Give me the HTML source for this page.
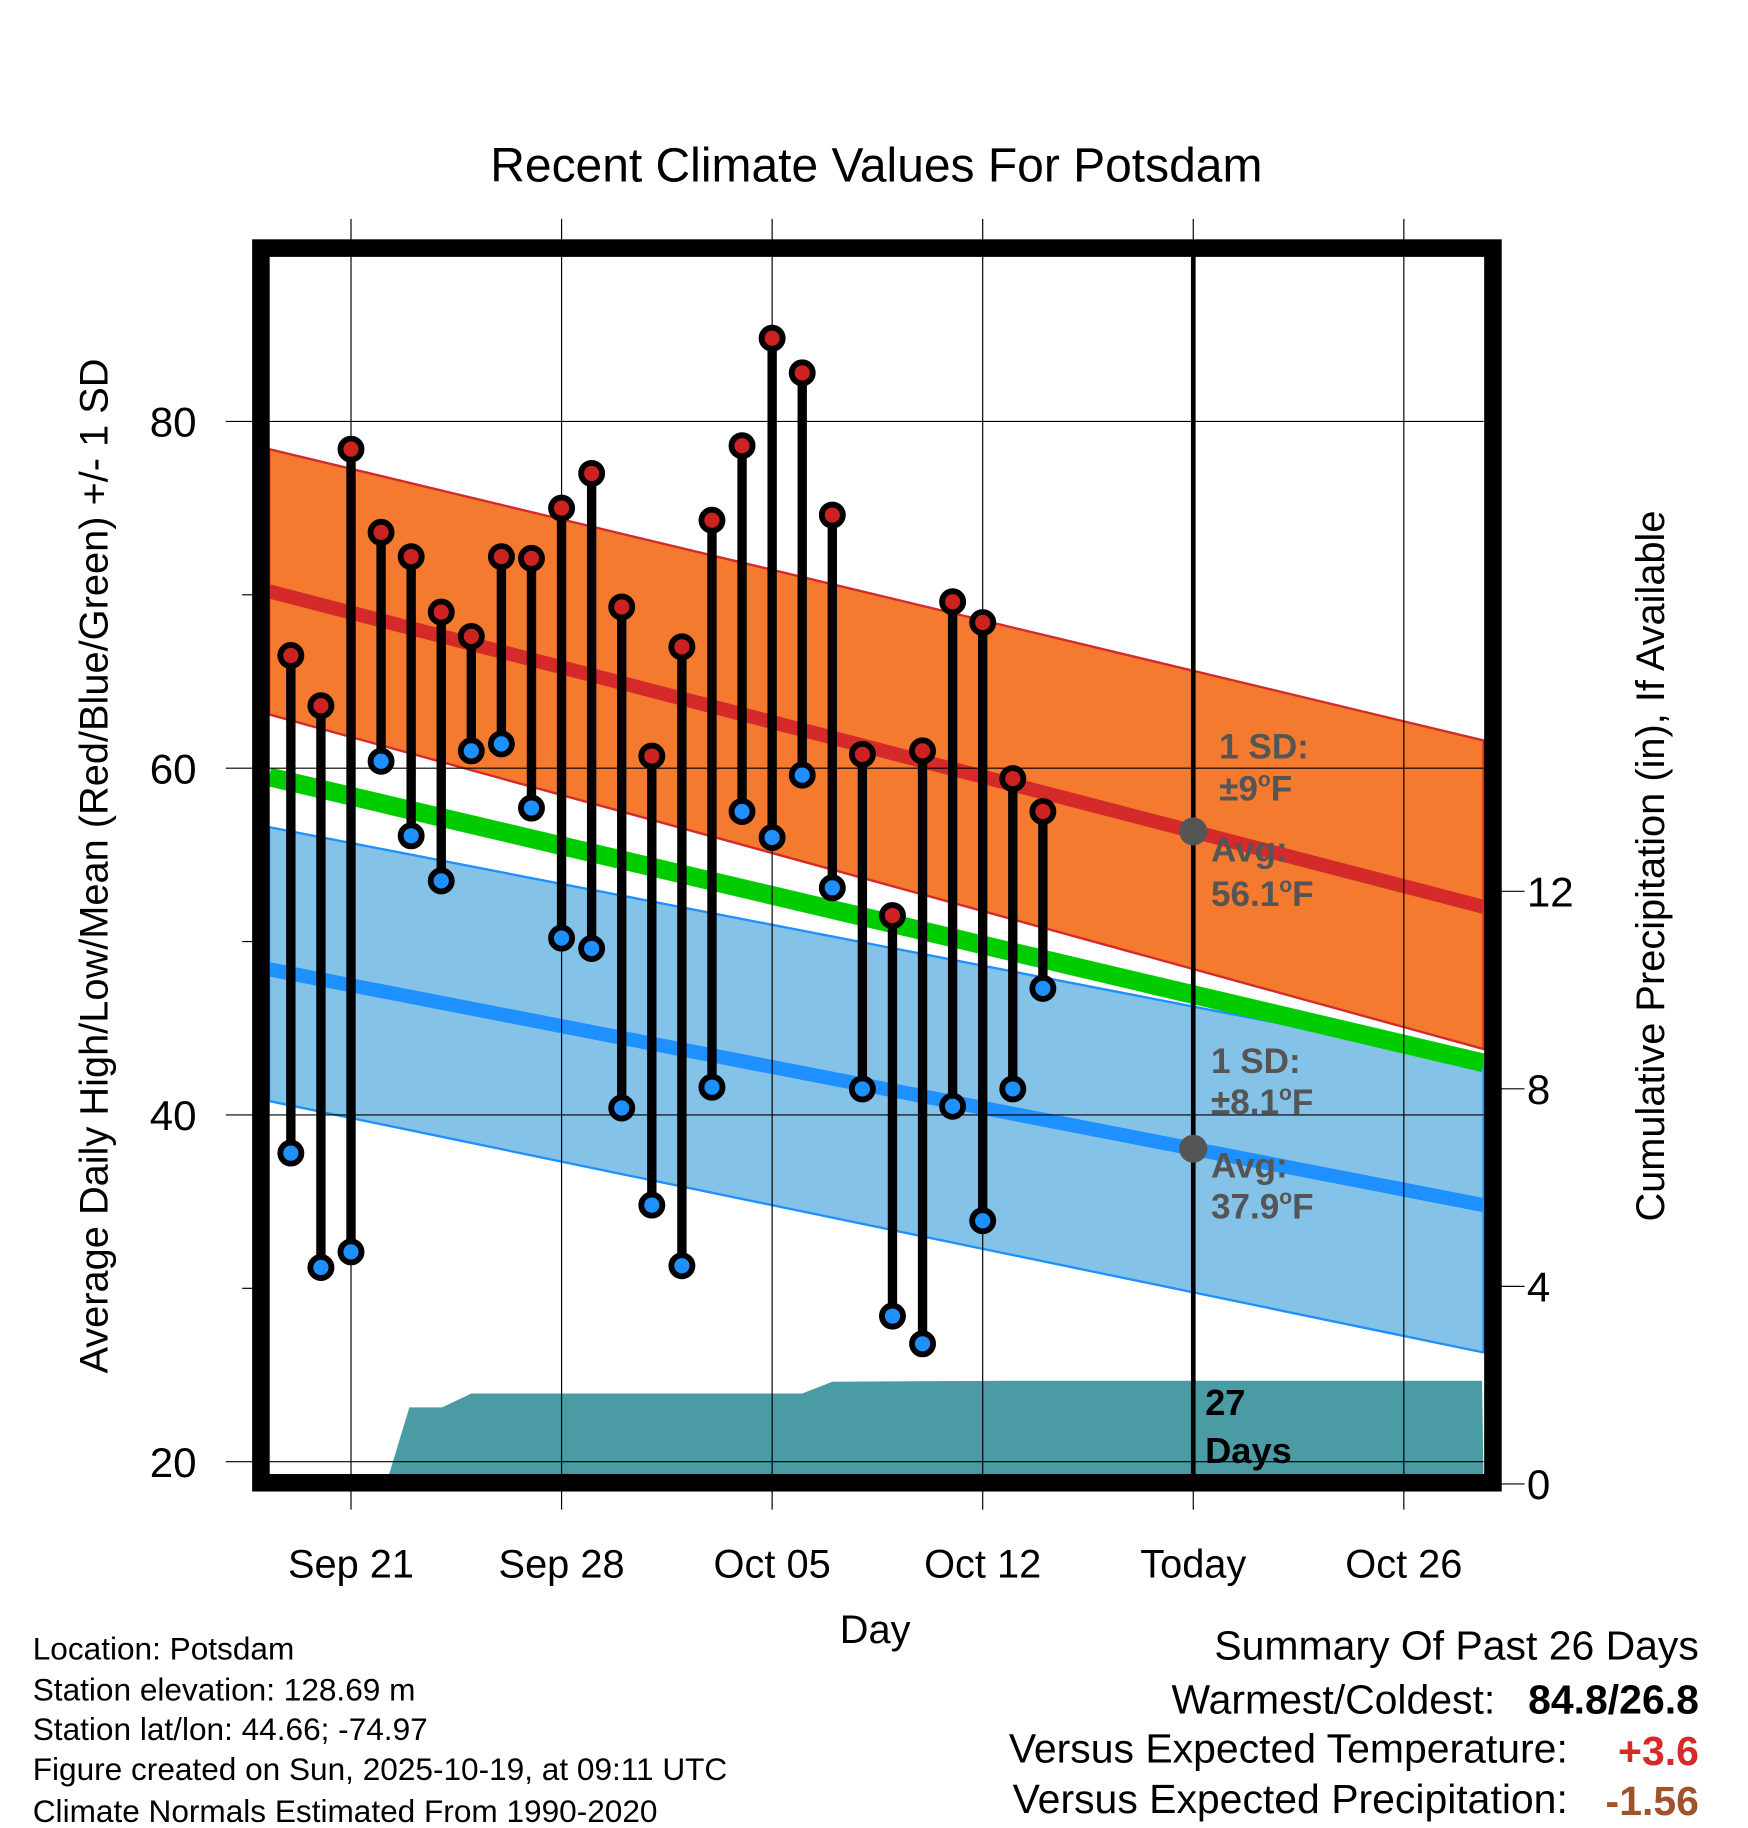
<!DOCTYPE html>
<html><head><meta charset="utf-8"><style>
html,body{margin:0;padding:0;background:#fff;}
svg{display:block;font-family:"Liberation Sans",Arial,sans-serif;}
</style></head><body>
<svg id="chart" width="1748" height="1828" viewBox="0 0 1494 1562" preserveAspectRatio="none" xmlns="http://www.w3.org/2000/svg">
<g id="gBack"></g>
<g id="gMarks"></g>
<g id="gFront"></g>
</svg>
<script>
// ---- data ----
const highs = [66.5,63.6,78.4,73.6,72.2,69.0,67.6,72.2,72.1,75.0,77.0,69.3,60.7,67.0,74.3,78.6,84.8,82.8,74.6,60.8,51.5,61.0,69.6,68.4,59.4,57.5];
const lows  = [37.8,31.2,32.1,60.4,56.1,53.5,61.0,61.4,57.7,50.2,49.6,40.4,34.8,31.3,41.6,57.5,56.0,59.6,53.1,41.5,28.4,26.8,40.5,33.9,41.5,47.3];
const firstDay = -2; // days relative to Sep 21
const normHighMean = [70.2, 52.0];   // at left / right edge of plot
const normHighUpper = [78.4, 61.6];
const normHighLower = [63.1, 43.8];
const normLowMean = [48.4, 34.8];
const normLowUpper = [56.6, 43.0];
const normLowLower = [40.8, 26.3];
const normAvg = [59.5, 43.0];
const precipDays = [1.17, 1.94, 3.03, 4.0, 15.0, 16.0, 22.6, 37.6];
const precipVals = [0, 1.55, 1.55, 1.83, 1.83, 2.07, 2.09, 2.09];
const yTicks = [20,40,60,80];
const yMinor = [30,50,70];
const pTicks = [0,4,8,12];
const xTickDays = [0,7,14,21,28,35];
const xTickLabels = ["Sep 21","Sep 28","Oct 05","Oct 12","Today","Oct 26"];
// ---- axes ----
const L=230,R=1268;
const X=d=>300+d*25.71;
const Y=v=>1249-(v-20)*14.815;
const P=p=>1268-p*42.2;
const NS="http://www.w3.org/2000/svg";
function mk(par,tag,at,txt){const e=document.createElementNS(NS,tag);for(const k in at)e.setAttribute(k,at[k]);if(txt!==undefined)e.textContent=txt;document.getElementById(par).appendChild(e);return e;}
function band(a,b){return `${L},${Y(a[0])} ${R},${Y(a[1])} ${R},${Y(b[1])} ${L},${Y(b[0])}`;}
let e;
e=mk('gBack','polygon',{points:band(normHighUpper,normHighLower),fill:'#f47a2f',stroke:'#d42a2a','stroke-width':2});

e=mk('gBack','polygon',{points:band(normLowUpper,normLowLower),fill:'#84c2e8',stroke:'#1e90ff','stroke-width':2});

e=mk('gBack','line',{x1:L,y1:Y(normAvg[0]),x2:R,y2:Y(normAvg[1]),stroke:'#00cc00','stroke-width':16});

e=mk('gBack','line',{x1:L,y1:Y(normHighMean[0]),x2:R,y2:Y(normHighMean[1]),stroke:'#d42a2a','stroke-width':12});

e=mk('gBack','line',{x1:L,y1:Y(normLowMean[0]),x2:R,y2:Y(normLowMean[1]),stroke:'#1e90ff','stroke-width':12});

// precip area
let pts=precipDays.map((d,i)=>`${Math.min(R,X(d))},${P(precipVals[i])}`);
pts.push(`${R},${P(0)}`);pts.push(`${X(precipDays[0])},${P(0)}`);
e=mk('gBack','polygon',{points:pts.join(' '),fill:'#4a9ba3'});

// grid
xTickDays.forEach((d,i)=>{
 e=mk('gBack','line',{x1:X(d),y1:187,x2:X(d),y2:1290,stroke:'#000','stroke-width':1});
 
 e=mk('gFront','text',{x:X(d),y:1348,'text-anchor':'middle','font-size':34},xTickLabels[i]);
 
});
yTicks.forEach(v=>{
 e=mk('gBack','line',{x1:193,y1:Y(v),x2:R,y2:Y(v),stroke:'#000','stroke-width':1});
 
 e=mk('gFront','text',{x:168,y:Y(v)+13,'text-anchor':'end','font-size':36},String(v));
 
});
yMinor.forEach(v=>{
 e=mk('gBack','line',{x1:207,y1:Y(v),x2:218,y2:Y(v),stroke:'#000','stroke-width':1});
 
});
pTicks.forEach(v=>{
 e=mk('gFront','line',{x1:1283,y1:P(v),x2:1303,y2:P(v),stroke:'#000','stroke-width':1});
 
 e=mk('gFront','text',{x:1305,y:P(v)+13,'font-size':36},String(v));
 
});
e=mk('gBack','line',{x1:X(28),y1:215,x2:X(28),y2:1262,stroke:'#000','stroke-width':4});

highs.forEach((h,i)=>{
 const x=X(firstDay+i);
 e=mk('gMarks','line',{x1:x,y1:Y(h),x2:x,y2:Y(lows[i]),stroke:'#000','stroke-width':8});
 
});
highs.forEach((h,i)=>{
 const x=X(firstDay+i);
 e=mk('gMarks','circle',{cx:x,cy:Y(h),r:9,fill:'#cc2222',stroke:'#000','stroke-width':5});
 
 e=mk('gMarks','circle',{cx:x,cy:Y(lows[i]),r:9,fill:'#1e90ff',stroke:'#000','stroke-width':5});
 
});
const tH=normHighMean[0]+(normHighMean[1]-normHighMean[0])*(X(28)-L)/(R-L);
const tL=normLowMean[0]+(normLowMean[1]-normLowMean[0])*(X(28)-L)/(R-L);
e=mk('gMarks','circle',{cx:X(28),cy:Y(tH),r:12,fill:'#555'});

e=mk('gMarks','circle',{cx:X(28),cy:Y(tL),r:12,fill:'#555'});

</script>
<script>
(function(){
const NS="http://www.w3.org/2000/svg";
const g=document.getElementById('gFront');
function t(x,y,s,txt,name,extra){const e=document.createElementNS(NS,'text');e.setAttribute('x',x);e.setAttribute('y',y);e.setAttribute('font-size',s);for(const k in (extra||{}))e.setAttribute(k,extra[k]);e.innerHTML=txt;


g.appendChild(e);return e;}
const f=document.createElementNS(NS,'rect');
f.setAttribute('x',223);f.setAttribute('y',212);f.setAttribute('width',1053);f.setAttribute('height',1055);f.setAttribute('fill','none');f.setAttribute('stroke','#000');f.setAttribute('stroke-width',15);


g.appendChild(f);
const gb={fill:'#555','font-weight':'bold'};
t(1042,648,30,'1 SD:','high-sd-label',gb);
t(1042,684,30,'±9<tspan font-size="18" dy="-12">o</tspan><tspan dy="12">F</tspan>','high-sd-value',gb);
t(1035,736,30,'Avg:','high-avg-label',gb);
t(1035,774,30,'56.1<tspan font-size="18" dy="-12">o</tspan><tspan dy="12">F</tspan>','high-avg-value',gb);
t(1035,917,30,'1 SD:','low-sd-label',gb);
t(1035,952,30,'±8.1<tspan font-size="18" dy="-12">o</tspan><tspan dy="12">F</tspan>','low-sd-value',gb);
t(1035,1006,30,'Avg:','low-avg-label',gb);
t(1035,1041,30,'37.9<tspan font-size="18" dy="-12">o</tspan><tspan dy="12">F</tspan>','low-avg-value',gb);
t(1030,1209,31,'27','days-count',{fill:'#000','font-weight':'bold'});
t(1030,1250,31,'Days','days-label',{fill:'#000','font-weight':'bold'});
t(749,155,41,'Recent Climate Values For Potsdam','chart-title',{'text-anchor':'middle'});
t(748,1404,34,'Day','x-axis-title',{'text-anchor':'middle'});
t(0,0,34,'Average Daily High/Low/Mean (Red/Blue/Green) +/- 1 SD','y-axis-title',{'text-anchor':'middle',transform:'translate(92,740) rotate(-90)'});
t(0,0,34,'Cumulative Precipitation (in), If Available','precip-axis-title',{'text-anchor':'middle',transform:'translate(1422,740) rotate(-90)'});
const foot=['Location: Potsdam','Station elevation: 128.69 m','Station lat/lon: 44.66; -74.97','Figure created on Sun, 2025-10-19, at 09:11 UTC','Climate Normals Estimated From 1990-2020'];
const fy=[1418,1453,1487,1521,1557];
foot.forEach((s,i)=>t(28,fy[i],27,s,'footnote-line'));
t(1452,1418,35,'Summary Of Past 26 Days','summary-title',{'text-anchor':'end'});
t(1278,1464,35,'Warmest/Coldest:','warmest-coldest-label',{'text-anchor':'end'});
t(1452,1464,35,'84.8/26.8','warmest-coldest-value',{'text-anchor':'end','font-weight':'bold'});
t(1340,1506,35,'Versus Expected Temperature:','temp-anomaly-label',{'text-anchor':'end'});
t(1452,1508,35,'+3.6','temp-anomaly-value',{'text-anchor':'end','font-weight':'bold',fill:'#d42a2a'});
t(1340,1549,35,'Versus Expected Precipitation:','precip-anomaly-label',{'text-anchor':'end'});
t(1452,1551,35,'-1.56','precip-anomaly-value',{'text-anchor':'end','font-weight':'bold',fill:'#a0522d'});
})();
</script>
</body></html>
